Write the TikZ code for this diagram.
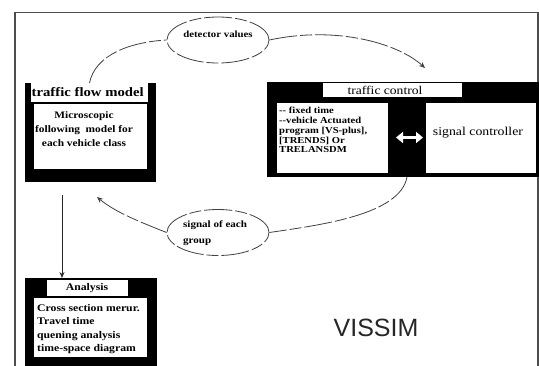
\documentclass[tikz,border=0pt]{standalone}
\usepackage{fontspec}
\setmainfont{Liberation Serif}
\newfontfamily\scanfont{Liberation Serif}[FakeStretch=1.15]
\newfontfamily\visfont{Liberation Sans}
\usetikzlibrary{shapes.geometric,arrows.meta}
\begin{document}
\begin{tikzpicture}[x=1pt,y=-1pt,
  blackbox/.style={fill=black,draw=none,inner sep=0pt,outer sep=0pt},
  whitebox/.style={fill=white,draw=none,inner sep=0pt,outer sep=0pt},
  scanline/.style={draw=black!75,line width=0.8pt,dash pattern=on 28pt off 3pt on 12pt off 3pt},
  oval/.style={ellipse,scanline,fill=white,minimum width=102pt,minimum height=46pt,inner sep=0pt},
  lbl/.style={font=\scanfont\bfseries,inner sep=0pt,text=black},
  reg/.style={font=\scanfont,inner sep=0pt,text=black},
  tip/.style={-{Stealth[length=6pt,width=5pt]}}
]
\useasboundingbox (0,0) rectangle (539,365);
\fill[white] (0,0) rectangle (539,365);
% frame
\draw[black!70,line width=1.3pt] (15,366) -- (15,12.5) -- (538,12.5) -- (538,366);

% traffic flow model
\node[blackbox,minimum width=131pt,minimum height=99pt] (tfm) at (90.5,132.5) {};
\node[whitebox,minimum width=117pt,minimum height=19pt] (tfmtitle) at (89.5,92.5) {};
\node[lbl,font=\scanfont\bfseries\fontsize{12.8}{13}\selectfont,anchor=west] (tfmtitletext) at (31.5,92) {traffic flow model};
\node[whitebox,minimum width=113pt,minimum height=65pt] (tfmin) at (90.5,136.5) {};
\node[lbl,font=\scanfont\bfseries\fontsize{9.9}{13.8}\selectfont,align=center] (tfmtext) at (84,129) {Microscopic\\following\ \ model for\\each vehicle class};

% traffic control
\node[blackbox,minimum width=272pt,minimum height=95pt] (tc) at (403,129.5) {};
\node[whitebox,minimum width=139pt,minimum height=14pt] (tctitle) at (392.5,90) {};
\node[reg,font=\scanfont\fontsize{11.8}{12}\selectfont] (tctitletext) at (385,90.5) {traffic control};
\node[whitebox,minimum width=111pt,minimum height=70pt] (tcleft) at (332.5,137.5) {};
\node[whitebox,minimum width=110pt,minimum height=70pt] (tcright) at (481,137.5) {};
\node[lbl,font=\scanfont\bfseries\fontsize{9.2}{9.8}\selectfont,align=left,anchor=north west] (tclefttext) at (279,107) {-- fixed time\\--vehicle Actuated\\program [VS-plus],\\{[TRENDS]} Or\\TRELANSDM};
\node[reg,font=\scanfont\fontsize{12}{13}\selectfont] (sc) at (478,132.5) {signal controller};
\draw[white,line width=3.5pt,{Triangle[length=7pt,width=11pt]}-{Triangle[length=7pt,width=11pt]}] (tcleft.east) ++(8,0) coordinate (dl) -- ([xshift=-3pt]tcright.west) coordinate (dr);

% ellipses
\node[oval] (det) at (218,40) {};
\node[lbl,font=\scanfont\bfseries\fontsize{9.4}{10}\selectfont] (dettext) at (218,34.5) {detector values};
\node[oval] (sig) at (218,232.5) {};
\node[lbl,font=\scanfont\bfseries\fontsize{9.6}{16.5}\selectfont,align=left,anchor=west] (sigtext) at (183,233) {signal of each\\group};

% connectors
\coordinate (detend) at (425,68);
\coordinate (sigend) at (97,197);
\draw[scanline] (tfmtitle.north) .. controls (95,55) and (130,42) .. (det.west);
\draw[scanline,tip] (det.east) .. controls (340,25) and (400,45) .. (detend);
\draw[scanline] ([xshift=4pt]tc.south) .. controls (400,215) and (320,225) .. (sig.east);
\draw[scanline,tip] (sig.west) .. controls (140,222) and (115,212) .. (sigend);

% analysis
\node[blackbox,minimum width=132pt,minimum height=90pt] (an) at (91,323) {};
\node[whitebox,minimum width=81pt,minimum height=16pt] (antitle) at (87.5,288) {};
\node[lbl,font=\scanfont\bfseries\fontsize{10.2}{11}\selectfont] (antitletext) at (87,288) {Analysis};
\node[whitebox,minimum width=113pt,minimum height=59pt] (anin) at (90.5,327.5) {};
\node[lbl,font=\scanfont\bfseries\fontsize{10.2}{13.4}\selectfont,align=left,anchor=north west] (antext) at (37,304) {Cross section merur.\\Travel time\\quening analysis\\time-space diagram};

\draw[black!85,line width=0.7pt,tip] (62,195) -- (an.north -| 62,195);

% VISSIM
\node[font=\visfont\fontsize{25}{26}\selectfont,text=black!85,inner sep=0pt] (vissim) at (376,328) {VISSIM};
\end{tikzpicture}
\end{document}
